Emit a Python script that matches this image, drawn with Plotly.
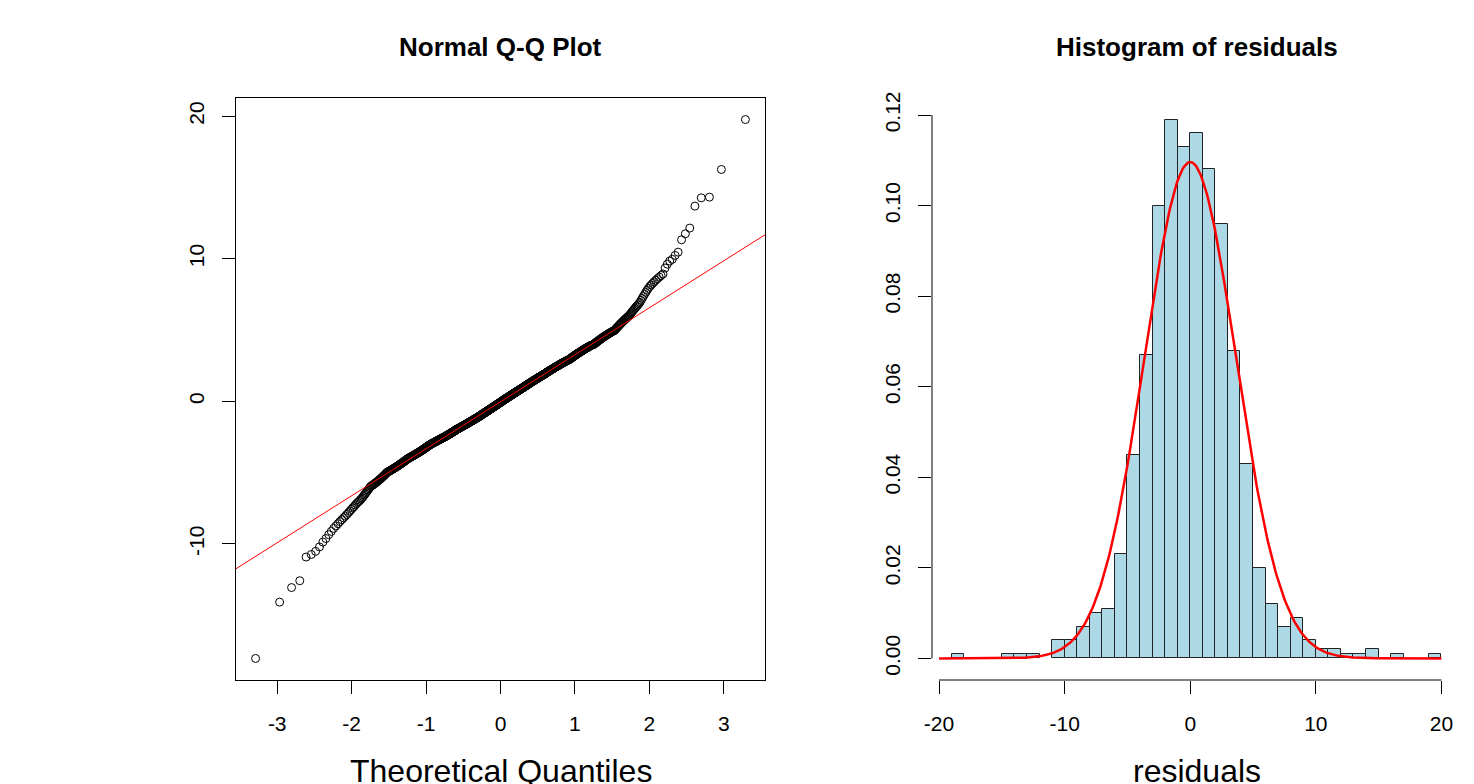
import numpy as np
import plotly.graph_objects as go
from statistics import NormalDist

lower_tail = [
    -18.03, -14.08, -13.06, -12.58,
    -10.92, -10.74, -10.52, -10.21,
    -9.87, -9.62, -9.35, -9.12,
    -8.91, -8.74, -8.58, -8.43, -8.30, -8.17, -8.05,
    -7.93, -7.81, -7.70, -7.58, -7.47, -7.38, -7.27, -7.18, -7.09, -7.02,
    -6.94, -6.86, -6.77, -6.68, -6.58, -6.49, -6.40, -6.31, -6.22, -6.13, -6.05,
    -5.97, -5.93, -5.89, -5.85, -5.81, -5.76, -5.72, -5.68, -5.64, -5.60,
    -5.55, -5.51, -5.47, -5.43, -5.39, -5.34, -5.30, -5.26, -5.22, -5.17,
    -5.13, -5.08, -5.04,
]

lower_core = [
    # (-5,-4]
    -4.99, -4.96, -4.94, -4.92, -4.89, -4.87, -4.85, -4.83, -4.80, -4.78,
    -4.76, -4.74, -4.71, -4.69, -4.67, -4.65, -4.62, -4.60, -4.58, -4.56,
    -4.53, -4.51, -4.49, -4.47, -4.44, -4.42, -4.40, -4.38, -4.35, -4.33,
    -4.31, -4.29, -4.26, -4.24, -4.22, -4.20, -4.17, -4.15, -4.13, -4.11,
    -4.08, -4.06, -4.04, -4.03, -4.01,
    # (-4,-3]
    -3.99, -3.97, -3.96, -3.94, -3.93, -3.91, -3.90, -3.88, -3.87, -3.85,
    -3.84, -3.82, -3.81, -3.79, -3.78, -3.76, -3.75, -3.73, -3.72, -3.70,
    -3.69, -3.67, -3.66, -3.64, -3.63, -3.61, -3.60, -3.58, -3.57, -3.55,
    -3.54, -3.52, -3.51, -3.49, -3.48, -3.46, -3.45, -3.43, -3.42, -3.40,
    -3.39, -3.37, -3.36, -3.34, -3.33, -3.31, -3.30, -3.28, -3.27, -3.25,
    -3.24, -3.22, -3.21, -3.19, -3.18, -3.16, -3.15, -3.13, -3.12, -3.10,
    -3.09, -3.07, -3.06, -3.05, -3.04, -3.02, -3.01,
    # (-3,-2]
    -2.99, -2.98, -2.97, -2.96, -2.95, -2.94, -2.93, -2.92, -2.91, -2.90,
    -2.89, -2.88, -2.87, -2.86, -2.85, -2.84, -2.83, -2.82, -2.81, -2.80,
    -2.79, -2.78, -2.77, -2.76, -2.75, -2.74, -2.73, -2.72, -2.71, -2.70,
    -2.69, -2.68, -2.67, -2.66, -2.65, -2.64, -2.63, -2.62, -2.61, -2.60,
    -2.59, -2.58, -2.57, -2.56, -2.55, -2.54, -2.53, -2.52, -2.51, -2.50,
    -2.49, -2.48, -2.47, -2.46, -2.45, -2.44, -2.43, -2.42, -2.41, -2.40,
    -2.39, -2.38, -2.37, -2.36, -2.35, -2.34, -2.33, -2.32, -2.31, -2.30,
    -2.29, -2.28, -2.27, -2.26, -2.25, -2.24, -2.23, -2.22, -2.21, -2.20,
    -2.19, -2.18, -2.17, -2.16, -2.15, -2.14, -2.13, -2.12, -2.11, -2.10,
    -2.09, -2.08, -2.07, -2.06, -2.05, -2.04, -2.03, -2.02, -2.01, -2.50,
    # (-2,-1]
    -1.99, -1.98, -1.97, -1.96, -1.95, -1.94, -1.93, -1.92, -1.91, -1.90,
    -1.89, -1.88, -1.87, -1.86, -1.85, -1.84, -1.83, -1.82, -1.81, -1.80,
    -1.79, -1.78, -1.77, -1.76, -1.75, -1.74, -1.73, -1.72, -1.71, -1.70,
    -1.69, -1.68, -1.67, -1.66, -1.65, -1.64, -1.63, -1.62, -1.61, -1.60,
    -1.59, -1.58, -1.57, -1.56, -1.55, -1.54, -1.53, -1.52, -1.51, -1.50,
    -1.49, -1.48, -1.47, -1.46, -1.45, -1.44, -1.43, -1.42, -1.41, -1.40,
    -1.39, -1.38, -1.37, -1.36, -1.35, -1.34, -1.33, -1.32, -1.31, -1.30,
    -1.29, -1.28, -1.27, -1.26, -1.25, -1.24, -1.23, -1.22, -1.21, -1.20,
    -1.19, -1.18, -1.17, -1.16, -1.15, -1.14, -1.13, -1.12, -1.11, -1.10,
    -1.09, -1.08, -1.07, -1.06, -1.05, -1.04, -1.03, -1.02, -1.01,
    -1.95, -1.90, -1.85, -1.80, -1.75, -1.70, -1.65, -1.60, -1.55, -1.50,
    -1.45, -1.40, -1.35, -1.30, -1.25, -1.20, -1.15, -1.10, -1.05, -1.03,
    # (-1,0]
    -0.99, -0.98, -0.97, -0.96, -0.95, -0.94, -0.93, -0.92, -0.91, -0.90,
    -0.89, -0.88, -0.87, -0.86, -0.85, -0.84, -0.83, -0.82, -0.81, -0.80,
    -0.79, -0.78, -0.77, -0.76, -0.75, -0.74, -0.73, -0.72, -0.71, -0.70,
    -0.69, -0.68, -0.67, -0.66, -0.65, -0.64, -0.63, -0.62, -0.61, -0.60,
    -0.59, -0.58, -0.57, -0.56, -0.55, -0.54, -0.53, -0.52, -0.51, -0.50,
    -0.49, -0.48, -0.47, -0.46, -0.45, -0.44, -0.43, -0.42, -0.41, -0.40,
    -0.39, -0.38, -0.37, -0.36, -0.35, -0.34, -0.33, -0.32, -0.31, -0.30,
    -0.29, -0.28, -0.27, -0.26, -0.25, -0.24, -0.23, -0.22, -0.21, -0.20,
    -0.19, -0.18, -0.17, -0.16, -0.15, -0.14, -0.13, -0.12, -0.11, -0.10,
    -0.09, -0.08, -0.07, -0.06, -0.05, -0.04, -0.03, -0.02, -0.01,
    -0.93, -0.86, -0.79, -0.72, -0.65, -0.58, -0.51, -0.44, -0.37, -0.30,
    -0.23, -0.16, -0.09, -0.04,
]

upper_core = [
    # (0,1]
    0.01, 0.02, 0.03, 0.04, 0.05, 0.06, 0.07, 0.08, 0.09, 0.10,
    0.11, 0.12, 0.13, 0.14, 0.15, 0.16, 0.17, 0.18, 0.19, 0.20,
    0.21, 0.22, 0.23, 0.24, 0.25, 0.26, 0.27, 0.28, 0.29, 0.30,
    0.31, 0.32, 0.33, 0.34, 0.35, 0.36, 0.37, 0.38, 0.39, 0.40,
    0.41, 0.42, 0.43, 0.44, 0.45, 0.46, 0.47, 0.48, 0.49, 0.50,
    0.51, 0.52, 0.53, 0.54, 0.55, 0.56, 0.57, 0.58, 0.59, 0.60,
    0.61, 0.62, 0.63, 0.64, 0.65, 0.66, 0.67, 0.68, 0.69, 0.70,
    0.71, 0.72, 0.73, 0.74, 0.75, 0.76, 0.77, 0.78, 0.79, 0.80,
    0.81, 0.82, 0.83, 0.84, 0.85, 0.86, 0.87, 0.88, 0.89, 0.90,
    0.91, 0.92, 0.93, 0.94, 0.95, 0.96, 0.97, 0.98, 0.99,
    0.03, 0.09, 0.15, 0.21, 0.27, 0.33, 0.39, 0.45, 0.51, 0.57,
    0.63, 0.69, 0.75, 0.81, 0.87, 0.93, 0.97,
    # (1,2]
    1.01, 1.02, 1.03, 1.04, 1.05, 1.06, 1.07, 1.08, 1.09, 1.10,
    1.11, 1.12, 1.13, 1.14, 1.15, 1.16, 1.17, 1.18, 1.19, 1.20,
    1.21, 1.22, 1.23, 1.24, 1.25, 1.26, 1.27, 1.28, 1.29, 1.30,
    1.31, 1.32, 1.33, 1.34, 1.35, 1.36, 1.37, 1.38, 1.39, 1.40,
    1.41, 1.42, 1.43, 1.44, 1.45, 1.46, 1.47, 1.48, 1.49, 1.50,
    1.51, 1.52, 1.53, 1.54, 1.55, 1.56, 1.57, 1.58, 1.59, 1.60,
    1.61, 1.62, 1.63, 1.64, 1.65, 1.66, 1.67, 1.68, 1.69, 1.70,
    1.71, 1.72, 1.73, 1.74, 1.75, 1.76, 1.77, 1.78, 1.79, 1.80,
    1.81, 1.82, 1.83, 1.84, 1.85, 1.86, 1.87, 1.88, 1.89, 1.90,
    1.91, 1.92, 1.93, 1.94, 1.95, 1.96, 1.97, 1.98, 1.99,
    1.05, 1.15, 1.25, 1.35, 1.45, 1.55, 1.65, 1.75, 1.85,
    # (2,3]
    2.01, 2.02, 2.03, 2.04, 2.05, 2.06, 2.07, 2.08, 2.09, 2.10,
    2.11, 2.12, 2.13, 2.14, 2.15, 2.16, 2.17, 2.18, 2.19, 2.20,
    2.21, 2.22, 2.23, 2.24, 2.25, 2.26, 2.27, 2.28, 2.29, 2.30,
    2.31, 2.32, 2.34, 2.35, 2.36, 2.37, 2.38, 2.39, 2.40,
    2.41, 2.42, 2.43, 2.44, 2.45, 2.46, 2.47, 2.48, 2.49, 2.50,
    2.51, 2.52, 2.53, 2.54, 2.55, 2.56, 2.57, 2.58, 2.59, 2.60,
    2.61, 2.62, 2.63, 2.64, 2.65, 2.67, 2.68, 2.69, 2.70,
    2.71, 2.72, 2.73, 2.74, 2.75, 2.76, 2.77, 2.78, 2.79, 2.80,
    2.81, 2.82, 2.83, 2.84, 2.85, 2.86, 2.87, 2.88, 2.89, 2.90,
    2.91, 2.92, 2.93, 2.94, 2.95, 2.97, 2.98, 2.99,
    # (3,4]
    3.01, 3.03, 3.04, 3.06, 3.07, 3.09, 3.10, 3.12, 3.13, 3.15,
    3.16, 3.18, 3.19, 3.21, 3.22, 3.24, 3.25, 3.27, 3.28, 3.30,
    3.31, 3.33, 3.34, 3.36, 3.37, 3.39, 3.40, 3.42, 3.43, 3.45,
    3.46, 3.48, 3.49, 3.51, 3.52, 3.54, 3.55, 3.57, 3.58, 3.60,
    3.61, 3.63, 3.64, 3.66, 3.67, 3.69, 3.70, 3.72, 3.73, 3.75,
    3.76, 3.78, 3.79, 3.81, 3.82, 3.84, 3.85, 3.87, 3.88, 3.90,
    3.91, 3.93, 3.94, 3.95, 3.96, 3.97, 3.98, 3.99,
    # (4,5]
    4.01, 4.03, 4.06, 4.08, 4.10, 4.13, 4.15, 4.17, 4.20, 4.22,
    4.24, 4.27, 4.29, 4.31, 4.34, 4.36, 4.38, 4.41, 4.43, 4.45,
    4.48, 4.50, 4.52, 4.55, 4.57, 4.59, 4.62, 4.64, 4.66, 4.69,
    4.71, 4.73, 4.76, 4.78, 4.80, 4.83, 4.85, 4.87, 4.90, 4.92,
    4.94, 4.96, 4.98,
]

upper_tail = [
    5.03, 5.08, 5.13, 5.18, 5.23, 5.28, 5.33, 5.38, 5.43, 5.48,
    5.53, 5.58, 5.63, 5.68, 5.73, 5.78, 5.83, 5.88, 5.93, 5.97,
    6.04, 6.12, 6.20, 6.28, 6.36, 6.44, 6.52, 6.60, 6.68, 6.76, 6.85, 6.94,
    7.08, 7.22, 7.36, 7.50, 7.64, 7.78, 7.92,
    8.05, 8.16, 8.27, 8.38, 8.49, 8.60, 8.71, 8.82, 8.93,
    9.35, 9.62, 9.84, 9.96,
    10.23, 10.46, 11.33, 11.75, 12.15, 13.69, 14.27, 14.32, 16.26, 19.76,
]

# normal curve parameters
curve_mean = 0.0
curve_sd = 3.64

# tick values and labels (R prints an ASCII hyphen for negatives)
qq_xticks = [-3, -2, -1, 0, 1, 2, 3]
qq_xlabels = ["-3", "-2", "-1", "0", "1", "2", "3"]
qq_yticks = [-10, 0, 10, 20]
qq_ylabels = ["-10", "0", "10", "20"]
hist_xticks = [-20, -10, 0, 10, 20]
hist_xlabels = ["-20", "-10", "0", "10", "20"]
hist_yticks = [0.00, 0.02, 0.04, 0.06, 0.08, 0.10, 0.12]
hist_ylabels = ["0.00", "0.02", "0.04", "0.06", "0.08", "0.10", "0.12"]
hist_break_start, hist_break_end, hist_bin = -19, 20, 1

# ---------------- derived ----------------
residuals = np.sort(np.array(lower_tail + lower_core + upper_core + upper_tail))
n = len(residuals)
nd = NormalDist()
theo = np.array([nd.inv_cdf((i + 0.5) / n) for i in range(n)])

q1, q3 = np.quantile(residuals, [0.25, 0.75])
t1, t3 = nd.inv_cdf(0.25), nd.inv_cdf(0.75)
slope = (q3 - q1) / (t3 - t1)
intercept = q1 - slope * t1


def rrange(lo, hi):
    d = (hi - lo) * 0.04
    return [lo - d, hi + d]


qq_xr = rrange(theo.min(), theo.max())
qq_yr = rrange(residuals.min(), residuals.max())

breaks = np.arange(hist_break_start, hist_break_end + hist_bin, hist_bin)
counts, _ = np.histogram(residuals, bins=breaks)
dens_max = counts.max() / (n * hist_bin)
hist_xr = rrange(hist_break_start, hist_break_end)
hist_yr = rrange(0, dens_max)

xs = np.linspace(hist_xticks[0], hist_xticks[-1], 401)
ys = np.exp(-0.5 * ((xs - curve_mean) / curve_sd) ** 2) / (curve_sd * np.sqrt(2 * np.pi))

# ---------------- layout geometry (page pixels; the page body has an 8px margin) ----------------
OFF = 8
W, H = 1474, 784
FONT = "Liberation Sans, Arial, sans-serif"
L_x0, L_x1 = 236 - OFF, 765 - OFF
R_x0, R_x1 = 932 - OFF, 1461 - OFF
P_y0, P_y1 = 98 - OFF, 680 - OFF  # top, bottom (pixels from top of figure)
ydom = [(H - P_y1) / H, (H - P_y0) / H]

fig = go.Figure()
fig.add_trace(go.Scatter(
    x=theo, y=residuals, mode="markers", xaxis="x", yaxis="y",
    marker=dict(symbol="circle-open", size=8, color="black", line=dict(width=1, color="black")),
    hoverinfo="skip"))
fig.add_trace(go.Scatter(
    x=qq_xr, y=[intercept + slope * v for v in qq_xr], mode="lines", xaxis="x", yaxis="y",
    line=dict(color="red", width=1), hoverinfo="skip"))
fig.add_trace(go.Histogram(
    x=residuals, xaxis="x2", yaxis="y2", histnorm="probability density",
    xbins=dict(start=hist_break_start, end=hist_break_end, size=hist_bin),
    marker=dict(color="lightblue", line=dict(color="#222222", width=1)), hoverinfo="skip"))
fig.add_trace(go.Scatter(
    x=xs, y=ys, mode="lines", xaxis="x2", yaxis="y2",
    line=dict(color="red", width=2.5), hoverinfo="skip"))

tickfont = dict(family=FONT, size=21, color="black")
common = dict(showgrid=False, zeroline=False, ticks="outside", ticklen=13, tickwidth=1,
              tickcolor="black", tickfont=tickfont, automargin=False)

fig.update_layout(
    width=W, height=H, margin=dict(l=0, r=0, t=0, b=0, autoexpand=False),
    paper_bgcolor="white", plot_bgcolor="white", showlegend=False,
    bargap=0,
    xaxis=dict(domain=[L_x0 / W, L_x1 / W], range=qq_xr, anchor="y",
               tickvals=qq_xticks, ticktext=qq_xlabels,
               showline=True, mirror=True, linecolor="black", linewidth=1,
               ticklabelstandoff=12, **common),
    yaxis=dict(domain=ydom, range=qq_yr, anchor="x", tickvals=qq_yticks, ticktext=qq_ylabels,
               tickangle=-90, showline=True, mirror=True, linecolor="black", linewidth=1,
               ticklabelstandoff=10, **common),
    xaxis2=dict(domain=[R_x0 / W, R_x1 / W], range=hist_xr, anchor="y2",
                tickvals=hist_xticks, ticktext=hist_xlabels, showline=False,
                ticklabelstandoff=12, **common),
    yaxis2=dict(domain=ydom, range=hist_yr, anchor="x2", tickvals=hist_yticks,
                ticktext=hist_ylabels, tickangle=-90, showline=False,
                ticklabelstandoff=10, **common),
)

# R-style axis lines for the histogram (span first..last tick only)
fig.add_shape(type="line", xref="x2", yref="paper", x0=hist_xticks[0], x1=hist_xticks[-1],
              y0=ydom[0], y1=ydom[0], line=dict(color="black", width=1))
fig.add_shape(type="line", xref="paper", yref="y2", x0=R_x0 / W, x1=R_x0 / W,
              y0=hist_yticks[0], y1=hist_yticks[-1], line=dict(color="black", width=1))


def ann(text, xc, yc, size, bold=False):
    fig.add_annotation(text=f"<b>{text}</b>" if bold else text, xref="paper", yref="paper",
                       x=xc / W, y=(H - yc) / H, xanchor="center", yanchor="middle",
                       showarrow=False, font=dict(family=FONT, size=size, color="black"))


ann("Normal Q-Q Plot", (L_x0 + L_x1) / 2, 47 - OFF, 26, bold=True)
ann("Histogram of residuals", (R_x0 + R_x1) / 2, 47 - OFF, 26, bold=True)
ann("Theoretical Quantiles", (L_x0 + L_x1) / 2, 771 - OFF, 32)
ann("residuals", (R_x0 + R_x1) / 2, 771 - OFF, 32)

fig.write_html("out.html")
